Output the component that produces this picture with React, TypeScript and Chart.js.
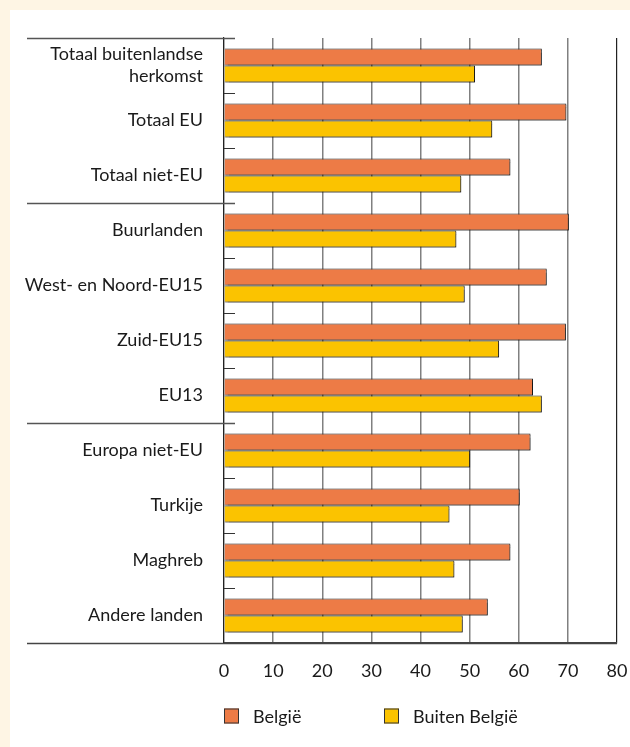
import React, { useEffect, useRef } from "react";
import { Chart, registerables } from "chart.js";

Chart.register(...registerables);

const categories: (string | string[])[] = [
  ["Totaal buitenlandse", "herkomst"],
  "Totaal EU",
  "Totaal niet-EU",
  "Buurlanden",
  "West- en Noord-EU15",
  "Zuid-EU15",
  "EU13",
  "Europa niet-EU",
  "Turkije",
  "Maghreb",
  "Andere landen",
];

const belgie = [64.7, 69.7, 58.3, 70.2, 65.7, 69.6, 62.9, 62.4, 60.2, 58.3, 53.7];
const buitenBelgie = [51.1, 54.6, 48.3, 47.3, 49.0, 56.0, 64.7, 50.1, 45.9, 46.9, 48.6];

const seriesNames = ["België", "Buiten België"];
const seriesColors = ["#ED7B46", "#FBC300"];

const xMin = 0;
const xMax = 80;
const xStep = 10;

// category boundaries (index of boundary) where a long separator line is drawn
const groupBreaks = [0, 3, 7, 11];

const FONT = "Lato, 'Liberation Sans', sans-serif";

const decorPlugin = {
  id: "decor",
  beforeDatasetsDraw(chart: any) {
    const ctx = chart.ctx;
    ctx.save();
    ctx.shadowColor = "rgba(0,0,0,0.35)";
    ctx.shadowOffsetX = 1.5;
    ctx.shadowOffsetY = 1.5;
    ctx.shadowBlur = 1;
  },
  afterDatasetsDraw(chart: any) {
    chart.ctx.restore();
  },
  afterDraw(chart: any) {
    const ctx = chart.ctx;
    const y = chart.scales.y;
    const area = chart.chartArea;
    const leftX = 17;
    ctx.save();
    for (let i = 0; i <= categories.length; i++) {
      const py = Math.round(y.getPixelForValue(i - 0.5)) + 0.5;
      const isGroup = groupBreaks.includes(i);
      ctx.beginPath();
      if (i === categories.length) {
        ctx.strokeStyle = "#444";
        ctx.lineWidth = 1.5;
        ctx.moveTo(leftX, py);
        ctx.lineTo(area.right, py);
      } else if (isGroup) {
        ctx.strokeStyle = "#555";
        ctx.lineWidth = 1.5;
        ctx.moveTo(leftX, py);
        ctx.lineTo(area.left + 11, py);
      } else {
        ctx.strokeStyle = "#333";
        ctx.lineWidth = 1;
        ctx.moveTo(area.left, py);
        ctx.lineTo(area.left + 11, py);
      }
      ctx.stroke();
    }
    // legend
    const ly = area.bottom + 73;
    const xs = [area.left, area.left + 160];
    ctx.font = "18px " + FONT;
    ctx.textBaseline = "middle";
    ctx.textAlign = "left";
    seriesNames.forEach((name, k) => {
      const bx = xs[k];
      ctx.fillStyle = seriesColors[k];
      ctx.fillRect(bx, ly - 7.5, 15, 15);
      ctx.strokeStyle = "#333";
      ctx.lineWidth = 1;
      ctx.strokeRect(bx + 0.5, ly - 7, 14, 14);
      ctx.fillStyle = "#1a1a1a";
      ctx.fillText(name, bx + 29, ly + 1);
    });
    ctx.restore();
  },
};

export default function App() {
  const ref = useRef<HTMLCanvasElement>(null);

  useEffect(() => {
    if (!ref.current) return;
    const chart = new Chart(ref.current, {
      type: "bar",
      data: {
        labels: categories,
        datasets: [
          {
            label: seriesNames[0],
            data: belgie,
            backgroundColor: seriesColors[0],
            borderColor: "#222",
            borderWidth: 1,
            categoryPercentage: 0.62,
            barPercentage: 1,
          },
          {
            label: seriesNames[1],
            data: buitenBelgie,
            backgroundColor: seriesColors[1],
            borderColor: "#222",
            borderWidth: 1,
            categoryPercentage: 0.62,
            barPercentage: 1,
          },
        ],
      },
      options: {
        indexAxis: "y",
        responsive: false,
        animation: false,
        devicePixelRatio: 1,
        layout: { padding: { top: 28, right: 13, left: 0, bottom: 0 } },
        plugins: {
          legend: { display: false },
          tooltip: { enabled: false },
        },
        scales: {
          x: {
            min: xMin,
            max: xMax,
            ticks: {
              stepSize: xStep,
              color: "#1a1a1a",
              font: { family: FONT, size: 18 },
              padding: 17,
            },
            grid: {
              drawTicks: false,
              color: (c: any) =>
                c.tick && (c.tick.value === xMin || c.tick.value === xMax) ? "#222" : "#808080",
              lineWidth: (c: any) =>
                c.tick && (c.tick.value === xMin || c.tick.value === xMax) ? 1.2 : 1.5,
            },
            border: { display: true, color: "#444", width: 1.5 },
            afterFit: (s: any) => {
              s.height = 104;
              s.paddingLeft = 0;
              s.paddingRight = 0;
            },
          },
          y: {
            ticks: {
              color: "#1a1a1a",
              font: { family: FONT, size: 18, lineHeight: 1.22 },
              padding: 21,
            },
            grid: { display: false, drawTicks: false },
            border: { display: true, color: "#222", width: 1.2 },
            afterFit: (s: any) => {
              s.width = 214;
              s.paddingTop = 0;
              s.paddingBottom = 0;
            },
          },
        },
      },
      plugins: [decorPlugin],
    });
    return () => chart.destroy();
  }, []);

  return (
    <div
      style={{
        position: "absolute",
        left: 0,
        top: 0,
        width: 630,
        height: 747,
        background: "#FEF5E4",
        overflow: "hidden",
      }}
    >
      <div
        style={{
          position: "absolute",
          left: 10,
          top: 10,
          width: 620,
          height: 737,
          background: "#FFFFFF",
        }}
      >
        <canvas ref={ref} width={620} height={737} style={{ display: "block" }} />
      </div>
    </div>
  );
}
